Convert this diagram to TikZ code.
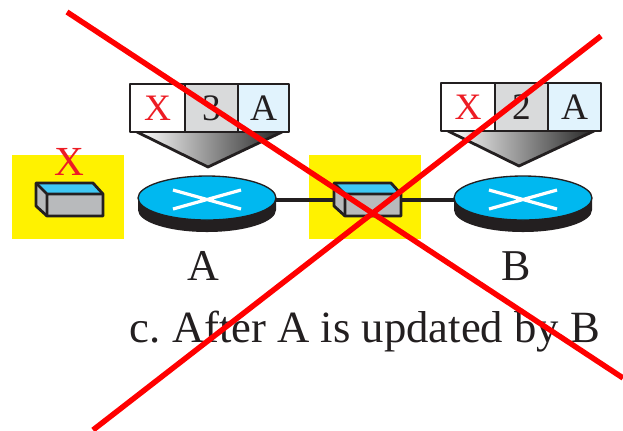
\documentclass[tikz,border=0pt]{standalone}
\usepackage{fontspec}
\setmainfont{Liberation Serif}
\frenchspacing
\definecolor{rtrcyan}{HTML}{00B8F0}
\definecolor{rtrdark}{HTML}{231F20}
\definecolor{cellgray}{HTML}{D9DADB}
\definecolor{cellblue}{HTML}{E1F3FD}
\definecolor{hilite}{HTML}{FFF200}
\definecolor{xred}{HTML}{ED1C24}
\definecolor{hostblue}{HTML}{3FC8F4}
\definecolor{hostgray}{HTML}{B8BABC}
\tikzset{
  px/.style={x=0.75pt,y=-0.75pt},
  ink/.style={draw=rtrdark,line width=2.1pt,line join=round},
  celltext/.style={inner sep=0pt,font=\fontsize{28pt}{28pt}\selectfont,text=rtrdark},
  redcross/.style={draw=red,line width=4.1pt},
  label/.style={inner sep=0pt,text=rtrdark,anchor=base},
  link/.style={draw=rtrdark,line width=2.3pt},
}
% table: #1 left x, #2 top y, #3,#4 dividers, #5 right x, #6 bottom y, #7 apex x, #8 apex y, #9 number
\newcommand{\rtable}[9]{
  \shade[left color=white,right color=black!85] (#1+7,#6) -- (#5-7,#6) -- (#7,#8) -- cycle;
  \draw[ink] (#1+7,#6) -- (#7,#8) -- (#5-7,#6);
  \fill[white] (#1,#2) rectangle (#3,#6);
  \fill[cellgray] (#3,#2) rectangle (#4,#6);
  \fill[cellblue] (#4,#2) rectangle (#5,#6);
  \draw[ink] (#1,#2) rectangle (#5,#6);
  \draw[ink] (#3,#2) -- (#3,#6) (#4,#2) -- (#4,#6);
  \node[celltext,text=xred] at ({(#1+#3)/2},{(#2+#6)/2}) {X};
  \node[celltext] at ({(#3+#4)/2},{(#2+#6)/2}) {#9};
  \node[celltext] at ({(#4+#5)/2},{(#2+#6)/2}) {A};
}
% router: #1 name, #2 centre x, #3 centre y, #4 rx
\newcommand{\rrouter}[4]{
  \fill[rtrdark] (#2-#4,#3) -- (#2-#4,#3+12) arc[start angle=180,end angle=0,x radius=#4,y radius=22] -- (#2+#4,#3) -- cycle;
  \draw[draw=rtrdark,line width=1pt,fill=rtrcyan] (#2,#3) ellipse[x radius=#4,y radius=22];
  \draw[white,line width=2.4pt] (#2-34,#3-8) -- (#2+34,#3+11) (#2-34,#3+11) -- (#2+34,#3-8);
  \coordinate (#1) at (#2,#3+2);
}
% host: #1 left x, #2 top y
\newcommand{\rhost}[2]{
  \fill[hostblue] (#1,#2) -- (#1+57,#2) -- (#1+67,#2+11) -- (#1+11,#2+11) -- cycle;
  \fill[hostgray] (#1,#2) -- (#1+11,#2+11) -- (#1+67,#2+11) -- (#1+67,#2+33) -- (#1+11,#2+33) -- (#1,#2+23) -- cycle;
  \draw[ink] (#1,#2) -- (#1+57,#2) -- (#1+67,#2+11) -- (#1+67,#2+33) -- (#1+11,#2+33) -- (#1,#2+23) -- cycle;
  \draw[ink] (#1,#2) -- (#1+11,#2+11) -- (#1+67,#2+11) (#1+11,#2+11) -- (#1+11,#2+33);
}
\begin{document}
\begin{tikzpicture}[px]
\useasboundingbox (0,0) rectangle (623,430);
\fill[white] (0,0) rectangle (623,430);
\fill[hilite] (12,155) rectangle (124,239);
\fill[hilite] (309,155) rectangle (421,239);

\rtable{130}{84}{185}{238}{289}{132}{208}{167}{3}
\rtable{441}{83}{495}{548}{601}{131}{519}{166}{2}

\rrouter{routerA}{207}{198}{69}
\rrouter{routerB}{523}{198}{69}
\coordinate (hostC) at (367,200);
\draw[link] (routerA -| 276,0) -- (hostC) -- (routerB -| 454,0);
\rhost{334}{183}
\rhost{36}{183}

\node[inner sep=0pt,text=xred,font=\fontsize{31pt}{31pt}\selectfont] (xlabel) at (69,162) {X};
\node[label,font=\fontsize{33pt}{33pt}\selectfont] (labelA) at (203,280) {A};
\node[label,font=\fontsize{33pt}{33pt}\selectfont] (labelB) at (516,280) {B};
\node[label,font=\fontsize{33.5pt}{33.5pt}\selectfont] (caption) at (365,342) {c. After A is updated by B};

\coordinate (crossA) at (67,12);
\coordinate (crossB) at (623,378);
\coordinate (crossC) at (601,36);
\coordinate (crossD) at (93,430);
\draw[redcross] (crossA) -- (crossB);
\draw[redcross] (crossC) -- (crossD);
\end{tikzpicture}
\end{document}
